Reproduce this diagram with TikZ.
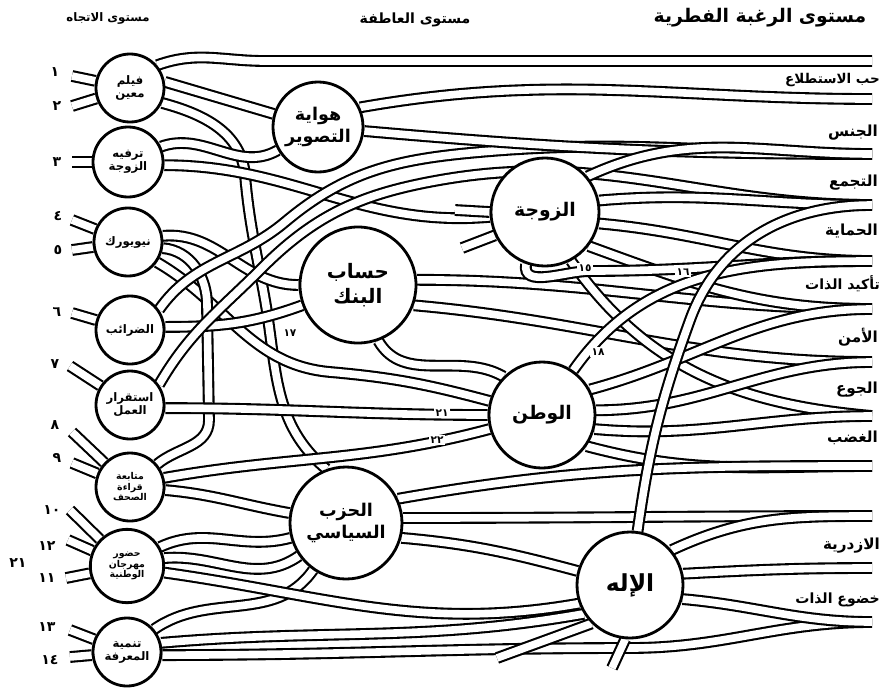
\documentclass[tikz,border=0pt]{standalone}
\usepackage{fontspec}
\usetikzlibrary{backgrounds}
\newfontfamily\arabicfont[Script=Arabic]{DejaVu Sans}
\TeXXeTstate=1
\newcommand{\artxt}[1]{{\arabicfont\bfseries\beginR #1\endR}}
\newcommand{\arnum}[1]{{\arabicfont\bfseries #1}}

\tikzset{
  band/.style={line width=1.8pt, double=white, double distance=6.5pt},
  attcirc/.style={circle, draw, line width=2.4pt, fill=white, inner sep=0pt,
    minimum size=2.04cm, align=center, font=\fontsize{10}{11}\selectfont},
  sentcirc/.style={circle, draw, line width=2.4pt, fill=white, inner sep=0pt,
    align=center, font=\fontsize{15}{19}\selectfont},
  ergname/.style={anchor=east, font=\fontsize{13}{15}\selectfont},
  numlbl/.style={font=\fontsize{12}{13}\selectfont},
  gaplbl/.style={fill=white, inner sep=1pt, font=\fontsize{9}{10}\selectfont},
}

\begin{document}
\begin{tikzpicture}[x=0.03cm, y=-0.03cm]
\useasboundingbox (0,0) rectangle (896,691);

% headings
\node[font=\fontsize{10}{12}\selectfont] (hatt) at (108,18) {\artxt{مستوى الاتجاه}};
\node[font=\fontsize{12}{14}\selectfont] (hsent) at (415,20) {\artxt{مستوى العاطفة}};
\node[font=\fontsize{16}{18}\selectfont] (herg) at (760,18) {\artxt{مستوى الرغبة الفطرية}};

% attitude circles
\node[attcirc] (L1) at (130,88) {\artxt{فيلم}\\\artxt{معين}};
\node[attcirc, minimum size=2.1cm] (L2) at (128,162) {\artxt{ترفيه}\\\artxt{الزوجة}};
\node[attcirc] (L3) at (128,242) {\artxt{نيويورك}};
\node[attcirc] (L4) at (130,330) {\artxt{الضرائب}};
\node[attcirc] (L5) at (130,405) {\artxt{استقرار}\\\artxt{العمل}};
\node[attcirc, font=\fontsize{8}{9}\selectfont] (L6) at (130,487) {\artxt{متابعة}\\\artxt{قراءة}\\\artxt{الصحف}};
\node[attcirc, minimum size=2.2cm, font=\fontsize{8}{9}\selectfont] (L7) at (127,566) {\artxt{حضور}\\\artxt{مهرجان}\\\artxt{الوطنية}};
\node[attcirc] (L8) at (127,652) {\artxt{تنمية}\\\artxt{المعرفة}};

% sentiment circles
\node[sentcirc, minimum size=2.7cm] (M1) at (318,127) {\artxt{هواية}\\\artxt{التصوير}};
\node[sentcirc, minimum size=3.48cm, font=\fontsize{17}{21}\selectfont] (M2) at (358,285) {\artxt{حساب}\\\artxt{البنك}};
\node[sentcirc, minimum size=3.24cm, font=\fontsize{16}{19}\selectfont] (M3) at (545,212) {\artxt{الزوجة}};
\node[sentcirc, minimum size=3.18cm, font=\fontsize{16}{19}\selectfont] (M4) at (542,415) {\artxt{الوطن}};
\node[sentcirc, minimum size=3.36cm] (M5) at (346,523) {\artxt{الحزب}\\\artxt{السياسي}};
\node[sentcirc, minimum size=3.18cm, font=\fontsize{20}{22}\selectfont] (M6) at (630,585) {\artxt{الإله}};

% erg names
\node[ergname, font=\fontsize{11.5}{13}\selectfont] (g1) at (884,80) {\artxt{حب الاستطلاع}};
\node[ergname] (g2) at (882,133) {\artxt{الجنس}};
\node[ergname] (g3) at (882,183) {\artxt{التجمع}};
\node[ergname] (g4) at (882,231) {\artxt{الحماية}};
\node[ergname, font=\fontsize{12}{13}\selectfont] (g5) at (884,284) {\artxt{تأكيد الذات}};
\node[ergname] (g6) at (882,337) {\artxt{الأمن}};
\node[ergname] (g7) at (882,390) {\artxt{الجوع}};
\node[ergname] (g8) at (882,438) {\artxt{الغضب}};
\node[ergname] (g9) at (884,546) {\artxt{الازدرية}};
\node[ergname, font=\fontsize{12}{13}\selectfont] (g10) at (884,600) {\artxt{خضوع الذات}};

% band ends on the right
\coordinate (E0) at (872,61);
\coordinate (E1) at (872,99);
\coordinate (E2) at (872,154);
\coordinate (E3) at (872,205);
\coordinate (E4) at (872,261);
\coordinate (E5) at (872,309);
\coordinate (E6) at (872,362);
\coordinate (E7) at (872,416);
\coordinate (E8) at (872,466);
\coordinate (E9) at (872,516);
\coordinate (E10) at (872,568);
\coordinate (E11) at (872,622);

% loose ends
\coordinate (W1) at (455,210);
\coordinate (W2) at (462,248);
\coordinate (W3) at (497,658);
\coordinate (W4) at (612,668);

% inputs on the left
\coordinate (i1) at (72,76);
\coordinate (i2) at (72,106);
\coordinate (i3) at (72,162);
\coordinate (i4) at (72,220);
\coordinate (i5) at (72,250);
\coordinate (i6) at (72,313);
\coordinate (i7) at (70,366);
\coordinate (i8) at (72,432);
\coordinate (i9) at (72,463);
\coordinate (i10) at (70,510);
\coordinate (i11) at (68,540);
\coordinate (i12) at (66,578);
\coordinate (i13) at (70,630);
\coordinate (i14) at (70,657);

\begin{scope}[on background layer]
  % inputs
  \foreach \i/\c in {i1/L1,i2/L1,i3/L2,i4/L3,i5/L3,i6/L4,i7/L5,i8/L6,i9/L6,i10/L7,i11/L7,i12/L7,i13/L8,i14/L8}
    \draw[band] (\i) -- (\c);

  % attitudes to sentiments
  \draw[band] (L1.40) to[out=20,in=180] (265,61) -- (E0);
  \draw[band] (L1.10) -- (M1);
  \draw[band] (L1.-25) to[out=-15,in=95] (245,175) to[out=-85,in=100] (265,300)
    to[out=-80,in=140] (M5.110);
  \draw[band] (L2.25) to[out=20,in=210] (M1.210);
  \draw[band] (L2.-5) to[out=0,in=185] (M3.185);
  \draw[band] (L3.10) to[out=5,in=180] (M2.180);
  \draw[band] (L3.-35) to[out=-30,in=175] (330,372) to[out=-5,in=165] (M4.165);
  \draw[band] (L3.-10) to[out=-5,in=90] (207,305) -- (209,420) to[out=-90,in=40] (L6.40);
  \draw[band] (L4.5) to[out=0,in=200] (M2.200);
  \draw[band] (L4.35) to[out=55,in=220] (285,222) to[out=40,in=185] (480,152)
    to[out=5,in=180] (E2);
  \draw[band] (L5.35) to[out=60,in=225] (262,268) to[out=45,in=190] (440,180)
    to[out=10,in=180] (E3);
  \draw[band] (L5.-5) to[out=0,in=180] (M4.180);
  \draw[band] (L6.15) to[out=10,in=195] (M4.195);
  \draw[band] (L6.-5) to[out=-5,in=170] (M5.170);
  \draw[band] (L7.30) to[out=25,in=195] (M5.195);
  \draw[band] (L7.12) to[out=5,in=215] (M5.215);
  \draw[band] (L8.40) to[out=35,in=235] (M5.235);
  \draw[band] (L7.-10) to[out=-8,in=190] (M6.200);
  \draw[band] (L8.15) to[out=5,in=190] (M6.212);
  \draw[band] (L8.-5) to[out=0,in=180] (630,648) to[out=0,in=180] (E11);

  % sentiments to sentiments
  \draw[band] (M2.-70) to[out=-60,in=150] (M4.135);
  \draw[band] (M5.-15) to[out=-5,in=165] (M6.165);

  % sentiments to ergs
  \draw[band] (M1.25) to[out=10,in=180] (E1);
  \draw[band] (M1.-5) to[out=-5,in=180] (E2);
  \draw[band] (M2.5) to[out=0,in=180] (E5);
  \draw[band] (M2.-20) to[out=-5,in=180] (E6);
  \draw[band] (M3.40) to[out=25,in=180] (E2);
  \draw[band] (M3.12) to[out=5,in=180] (E3);
  \draw[band] (M3.-12) to[out=-5,in=180] (E4);
  \draw[band] (M3.-38) to[out=-20,in=180] (E5);
  \draw[band] (M3.-62) to[out=-55,in=175] (E7);
  \draw[band] (M3.250) to[out=-100,in=180] (590,271) to[out=0,in=180] (E4);
  \draw[band] (M3.180) -- (W1);
  \draw[band] (M3.205) -- (W2);
  \draw[band] (M4.55) to[out=55,in=180] (E4);
  \draw[band] (M4.28) to[out=15,in=180] (E5);
  \draw[band] (M4.5) to[out=0,in=180] (E6);
  \draw[band] (M4.-15) to[out=-5,in=180] (E7);
  \draw[band] (M4.-35) to[out=-15,in=180] (E8);
  \draw[band] (M5.25) to[out=10,in=180] (E8);
  \draw[band] (M5.5) to[out=0,in=180] (E9);
  \draw[band] (M6.82) to[out=82,in=-110] (690,320) to[out=70,in=180] (E3);
  \draw[band] (M6.40) to[out=25,in=180] (E9);
  \draw[band] (M6.12) to[out=3,in=180] (E10);
  \draw[band] (M6.-15) to[out=-5,in=180] (E11);
  \draw[band] (M6.225) -- (W3);
  \draw[band] (M6.265) -- (W4);
\end{scope}

% numbers
\node[numlbl] (n1) at (55,72) {\arnum{١}};
\node[numlbl] (n2) at (57,106) {\arnum{٢}};
\node[numlbl] (n3) at (57,162) {\arnum{٣}};
\node[numlbl] (n4) at (58,216) {\arnum{٤}};
\node[numlbl] (n5) at (58,250) {\arnum{٥}};
\node[numlbl] (n6) at (57,312) {\arnum{٦}};
\node[numlbl] (n7) at (55,364) {\arnum{٧}};
\node[numlbl] (n8) at (55,425) {\arnum{٨}};
\node[numlbl] (n9) at (57,458) {\arnum{٩}};
\node[numlbl] (n10) at (52,510) {\arnum{١٠}};
\node[numlbl] (n12) at (47,546) {\arnum{١٢}};
\node[numlbl] (n21) at (18,563) {\arnum{٢١}};
\node[numlbl] (n11) at (47,578) {\arnum{١١}};
\node[numlbl] (n13) at (47,627) {\arnum{١٣}};
\node[numlbl] (n14) at (50,660) {\arnum{١٤}};
\node[gaplbl] (n15) at (585,268) {\arnum{١٥}};
\node[gaplbl] (n16) at (683,272) {\arnum{١٦}};
\node[gaplbl] (n17) at (290,333) {\arnum{١٧}};
\node[gaplbl] (n18) at (598,352) {\arnum{١٨}};
\node[gaplbl] (n21b) at (442,413) {\arnum{٢١}};
\node[gaplbl] (n22) at (437,440) {\arnum{٢٢}};
\end{tikzpicture}
\end{document}
